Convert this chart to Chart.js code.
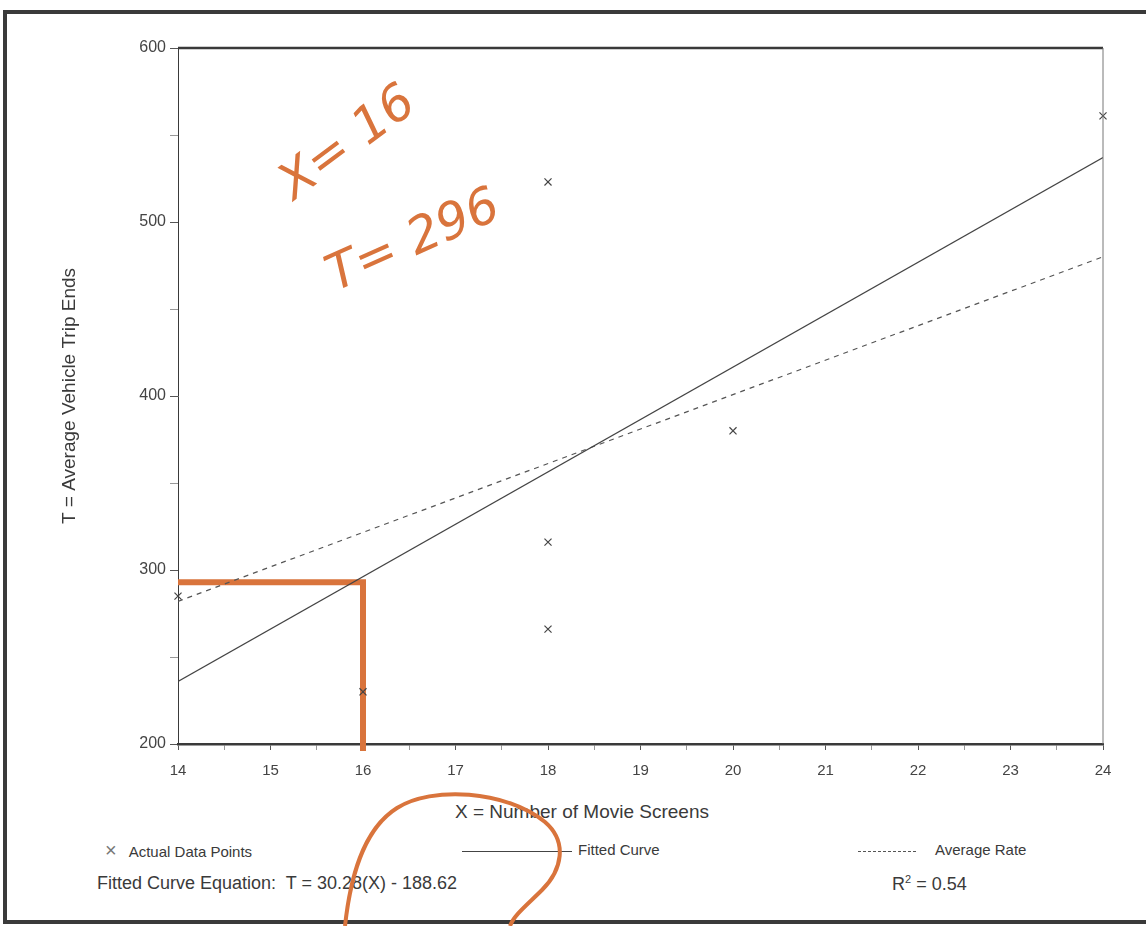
<!DOCTYPE html>
<html>
<head>
<meta charset="utf-8">
<script src="https://cdn.jsdelivr.net/npm/chart.js@4.4.1/dist/chart.umd.min.js"></script>
<style>
  html, body { margin: 0; padding: 0; background: #fff; }
  body { width: 1146px; height: 926px; position: relative; overflow: hidden; font-family: "Liberation Sans", Arial, sans-serif; color: #333; }
  #frame { position: absolute; left: 3px; top: 10px; width: 1160px; height: 906px; border: 4px solid #3a3a3a; border-right: none; }
  #wrap { position: absolute; left: 0; top: 0; width: 1146px; height: 800px; }
  .txt { position: absolute; white-space: nowrap; color: #3a3a3a; }
  #xtitle { left: 455px; top: 801px; font-size: 19px; }
  #leg1 { left: 105px; top: 839px; font-size: 15px; }
  #leg1 .mk { font-size: 20px; color: #777; margin-right: 12px; }
  #leg2 { left: 578px; top: 841px; font-size: 15px; }
  #leg3 { left: 935px; top: 841px; font-size: 15px; }
  #eq { left: 97px; top: 873px; font-size: 18px; }
  #r2 { left: 892px; top: 873px; font-size: 18px; }
  .smp { position: absolute; height: 0; }
  #s2 { left: 462px; top: 851px; width: 110px; border-top: 1px solid #444; }
  #s3 { left: 858px; top: 851px; width: 58px; border-top: 1px dashed #555; }
</style>
</head>
<body>
<div id="frame"></div>
<div id="wrap"><canvas id="chart"></canvas></div>
<div class="txt" id="xtitle">X = Number of Movie Screens</div>
<div class="txt" id="leg1"><span class="mk">×</span>Actual Data Points</div>
<div class="smp" id="s2"></div>
<div class="txt" id="leg2">Fitted Curve</div>
<div class="smp" id="s3"></div>
<div class="txt" id="leg3">Average Rate</div>
<div class="txt" id="eq">Fitted Curve Equation:&nbsp; T = 30.28(X) - 188.62</div>
<div class="txt" id="r2">R<sup style="font-size:11px">2</sup> = 0.54</div>
<script>
// values
const screens = [14, 16, 18, 18, 18, 20, 24];
const tripEnds = [285, 230, 523, 316, 266, 380, 561];

const fitX = [14, 24];
const fitT = [236, 537];

const avgX = [14, 24];
const avgT = [282, 480];

// the orange pen marks: read across at X = 16
const penX = [14, 16, 16];
const penT = [293, 293, 196];

const xMin = 14, xMax = 24;
const yMin = 200, yMax = 600;

const toPts = (xs, ys) => xs.map((x, i) => ({ x, y: ys[i] }));

const ink = "#3a3a3a";
const pen = "#d9743c";

const plotBox = {
    id: "plotBox",
    afterDatasetsDraw(chart) {
        const { ctx, chartArea: a } = chart;
        ctx.save();
        ctx.strokeStyle = ink;
        ctx.lineWidth = 2.5;
        ctx.beginPath();
        ctx.moveTo(a.left, a.top);
        ctx.lineTo(a.right, a.top);
        ctx.stroke();
        ctx.lineWidth = 1;
        ctx.strokeStyle = "#777";
        ctx.beginPath();
        ctx.moveTo(a.right, a.top);
        ctx.lineTo(a.right, a.bottom);
        ctx.stroke();
        ctx.restore();
    }
};

// handwriting on the scan
const penNotes = {
    id: "penNotes",
    afterDraw(chart) {
        const { ctx, scales } = chart;
        const write = (text, x, y, angle) => {
            ctx.save();
            ctx.fillStyle = pen;
            ctx.font = "italic 50px 'DejaVu Sans'";
            ctx.translate(scales.x.getPixelForValue(x), scales.y.getPixelForValue(y));
            ctx.rotate(angle);
            ctx.fillText(text, 0, 0);
            ctx.restore();
        };
        write("X= 16", 15.25, 512, -0.64);
        write("T= 296", 15.7, 460, -0.42);
    }
};

new Chart(document.getElementById("chart").getContext("2d"), {
    type: "scatter",
    data: {
        datasets: [
            {
                label: "Actual Data Points",
                data: toPts(screens, tripEnds),
                pointStyle: "crossRot",
                pointRadius: 5,
                borderColor: "#444",
                borderWidth: 1.2,
                showLine: false,
                clip: false
            },
            {
                label: "Fitted Curve",
                data: toPts(fitX, fitT),
                showLine: true,
                borderColor: "#444",
                borderWidth: 1.2,
                pointRadius: 0
            },
            {
                label: "Average Rate",
                data: toPts(avgX, avgT),
                showLine: true,
                borderColor: "#555",
                borderWidth: 1.2,
                borderDash: [5, 5],
                pointRadius: 0
            },
            {
                label: "pen",
                data: toPts(penX, penT),
                showLine: true,
                borderColor: pen,
                borderWidth: 6,
                pointRadius: 0,
                clip: false
            }
        ]
    },
    options: {
        responsive: true,
        maintainAspectRatio: false,
        animation: false,
        layout: { padding: { left: 58, right: 43, top: 48, bottom: 0 } },
        plugins: { legend: { display: false }, tooltip: { enabled: false } },
        scales: {
            x: {
                type: "linear",
                min: xMin, max: xMax,
                afterFit: s => { s.height = 56; },
                border: { color: ink, width: 2.5 },
                grid: {
                    drawOnChartArea: false, tickLength: 6,
                    color: c => Number.isInteger(c.tick.value) ? "#555" : "#999"
                },
                ticks: {
                    stepSize: 0.5,
                    padding: 12,
                    color: "#444",
                    font: { family: "'Liberation Sans'", size: 15 },
                    callback: v => Number.isInteger(v) ? v : ""
                }
            },
            y: {
                min: yMin, max: yMax,
                afterFit: s => { s.width = 120; },
                border: { color: ink, width: 1 },
                grid: {
                    drawOnChartArea: false, tickLength: 8,
                    color: c => c.tick.value % 100 === 0 ? "#555" : "#999"
                },
                title: {
                    display: true,
                    text: "T = Average Vehicle Trip Ends",
                    color: ink,
                    font: { family: "'Liberation Sans'", size: 19 },
                    padding: { top: 0, bottom: 0 }
                },
                ticks: {
                    stepSize: 50,
                    padding: 4,
                    color: "#444",
                    font: { family: "'Liberation Sans'", size: 16 },
                    callback: v => v % 100 === 0 ? v : ""
                }
            }
        }
    },
    plugins: [plotBox, penNotes]
});
</script>
<svg style="position:absolute;left:0;top:0" width="1146" height="926">
  <path d="M345 926 C350 880 362 830 397 808 C432 786 505 790 545 822 C568 842 562 870 542 890 C527 905 514 915 510 926" fill="none" stroke="#d9743c" stroke-width="4"/>
</svg>
</body>
</html>
